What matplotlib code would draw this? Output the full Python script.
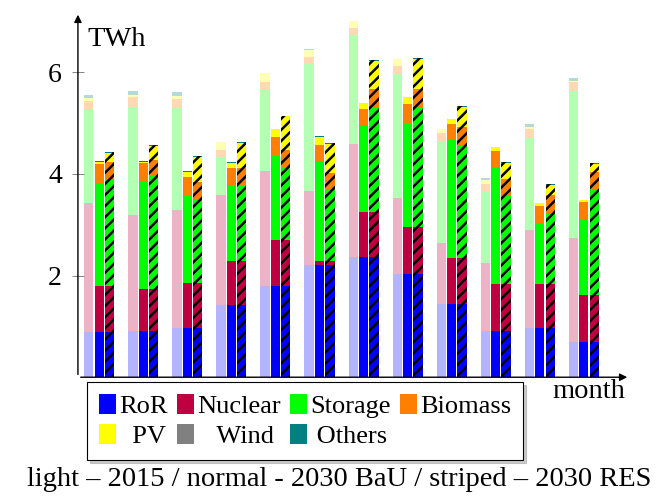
import matplotlib.pyplot as plt
from matplotlib.patches import Patch
import numpy as np

plt.rcParams['font.family'] = ['Liberation Serif', 'DejaVu Serif']
plt.rcParams['hatch.linewidth'] = 1.8

months = np.arange(1, 13)
techs = ["RoR", "Nuclear", "Storage", "Biomass", "PV", "Wind", "Others"]
colors = ["#0000ff", "#bf0040", "#00ff00", "#ff8000", "#ffff00", "#808080", "#008080"]

# 2015 (light)
ror_2015 = [0.89, 0.91, 0.96, 1.42, 1.79, 2.20, 2.37, 2.03, 1.45, 0.91, 0.96, 0.70]
nuc_2015 = [2.53, 2.28, 2.34, 2.16, 2.26, 1.47, 2.22, 1.50, 1.20, 1.34, 1.93, 2.04]
sto_2015 = [1.86, 2.13, 1.99, 0.76, 1.60, 2.49, 2.14, 2.43, 1.98, 1.39, 1.82, 2.89]
bio_2015 = [0.16, 0.19, 0.18, 0.14, 0.17, 0.15, 0.15, 0.16, 0.17, 0.17, 0.17, 0.18]
pv_2015 = [0.05, 0.04, 0.07, 0.14, 0.16, 0.14, 0.13, 0.15, 0.09, 0.07, 0.05, 0.02]
wind_2015 = [0.0] * 12
oth_2015 = [0.06, 0.08, 0.07, 0.01, 0.01, 0.01, 0.01, 0.0, 0.0, 0.04, 0.06, 0.05]

# 2030 BaU (normal)
ror_bau = [0.89, 0.91, 0.96, 1.42, 1.79, 2.20, 2.37, 2.03, 1.45, 0.91, 0.96, 0.70]
nuc_bau = [0.90, 0.82, 0.90, 0.87, 0.92, 0.08, 0.88, 0.92, 0.89, 0.92, 0.88, 0.91]
sto_bau = [2.04, 2.12, 1.71, 1.48, 1.66, 1.96, 1.69, 2.06, 2.33, 2.29, 1.20, 1.49]
bio_bau = [0.36, 0.36, 0.37, 0.34, 0.35, 0.34, 0.33, 0.36, 0.32, 0.34, 0.33, 0.35]
pv_bau = [0.04, 0.03, 0.09, 0.11, 0.16, 0.15, 0.12, 0.15, 0.10, 0.07, 0.05, 0.03]
wind_bau = [0.0] * 12
oth_bau = [0.02, 0.02, 0.02, 0.02, 0.01, 0.01, 0.01, 0.0, 0.0, 0.0, 0.0, 0.01]

# 2030 RES (striped)
ror_res = [0.89, 0.91, 0.96, 1.42, 1.79, 2.20, 2.37, 2.03, 1.45, 0.91, 0.96, 0.70]
nuc_res = [0.90, 0.82, 0.90, 0.87, 0.92, 0.09, 0.88, 0.92, 0.89, 0.92, 0.88, 0.91]
sto_res = [2.12, 2.23, 1.64, 1.49, 1.42, 1.39, 2.07, 2.37, 2.24, 1.74, 1.39, 2.07]
bio_res = [0.33, 0.32, 0.34, 0.34, 0.35, 0.34, 0.36, 0.36, 0.35, 0.34, 0.35, 0.36]
pv_res = [0.18, 0.27, 0.50, 0.49, 0.66, 0.58, 0.55, 0.59, 0.39, 0.30, 0.20, 0.15]
wind_res = [0.0] * 12
oth_res = [0.02, 0.02, 0.02, 0.01, 0.01, 0.01, 0.01, 0.01, 0.01, 0.02, 0.02, 0.02]

scen_2015 = [ror_2015, nuc_2015, sto_2015, bio_2015, pv_2015, wind_2015, oth_2015]
scen_bau = [ror_bau, nuc_bau, sto_bau, bio_bau, pv_bau, wind_bau, oth_bau]
scen_res = [ror_res, nuc_res, sto_res, bio_res, pv_res, wind_res, oth_res]


def lighten(c, f=0.3):
    r, g, b = [int(c[i:i + 2], 16) / 255 for i in (1, 3, 5)]
    return (1 - f * (1 - r), 1 - f * (1 - g), 1 - f * (1 - b))


fig = plt.figure(figsize=(6.66, 4.97), dpi=100)
ax = fig.add_axes([0.117, 0.241, 0.829, 0.735])

w = 0.21
off = 0.236
for k, (scen, dx) in enumerate([(scen_2015, -off), (scen_bau, 0), (scen_res, off)]):
    bottom = np.zeros(12)
    for vals, col in zip(scen, colors):
        vals = np.array(vals)
        fc = lighten(col) if k == 0 else col
        if k == 2:
            ax.bar(months + dx, vals, w, bottom=bottom, color=fc,
                   edgecolor="black", linewidth=0, hatch="///")
        else:
            ax.bar(months + dx, vals, w, bottom=bottom, color=fc, linewidth=0)
        bottom += vals

ax.set_xlim(0.516, 13.05)
ax.set_ylim(0, 7.19)
ax.set_xticks([])
ax.set_yticks([2, 4, 6])
ax.tick_params(axis="y", direction="inout", length=9, width=0.5, color="#555555",
               labelsize=20, pad=7)
for s in ["top", "right", "left", "bottom"]:
    ax.spines[s].set_visible(False)

# axes with arrow heads
ax.annotate("", xy=(0, 1.0), xytext=(0, 0), xycoords="axes fraction",
            arrowprops=dict(arrowstyle="-|>", lw=1.0, color="black", mutation_scale=11))
ax.annotate("", xy=(1.0, 0), xytext=(0, 0), xycoords="axes fraction",
            arrowprops=dict(arrowstyle="-|>", lw=1.0, color="black", mutation_scale=11))

fig.text(87 / 666, 1 - 40 / 497, "TWh", fontsize=20.5, va="center", ha="left")
fig.text(552 / 666, 1 - 391 / 497, "month", fontsize=20.5, va="center", ha="left")
fig.text(339 / 666, 1 - 480 / 497, "light \u2013 2015 / normal - 2030 BaU / striped \u2013 2030 RES",
         fontsize=20.5, va="center", ha="center")

handles = [Patch(facecolor=c, edgecolor="none") for c in colors]
labels = ["RoR", "Nuclear", "Storage", "Biomass", "  PV", "   Wind", " Others"]
order = [0, 4, 1, 5, 2, 6, 3]
leg = fig.legend([handles[i] for i in order], [labels[i] for i in order],
                 loc="upper left", bbox_to_anchor=(87 / 666, 1 - 382 / 497),
                 ncol=4, fontsize=19, frameon=True, fancybox=False, edgecolor="black",
                 handlelength=0.65, handleheight=0.78, handletextpad=0.12,
                 columnspacing=0.35, borderpad=0.45, labelspacing=0.23,
                 borderaxespad=0, shadow={"color": "0.6", "alpha": 0.5})
leg.get_frame().set_linewidth(0.8)

fig.savefig("out.png", dpi=100)
